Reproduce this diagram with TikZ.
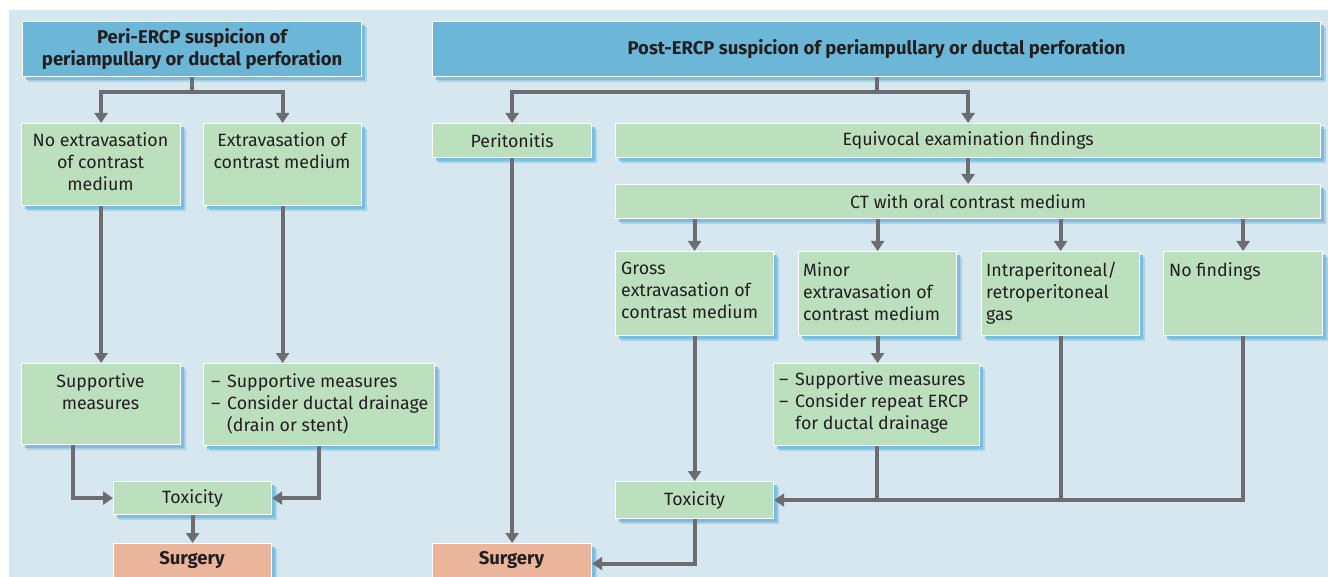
\documentclass[tikz,border=0pt]{standalone}
\usepackage{fontspec}
\setmainfont{Fira Sans}
\usetikzlibrary{arrows.meta,shadows,calc}
\definecolor{bgc}{HTML}{D7E7F0}
\definecolor{hdrc}{HTML}{6CB7D8}
\definecolor{grn}{HTML}{BCDFBE}
\definecolor{surg}{HTML}{EBB59C}
\definecolor{arrc}{HTML}{6C6D70}
\definecolor{shb}{HTML}{6FB8DC}
\definecolor{ink}{HTML}{231F20}
\newcommand{\regf}{\fontsize{17.8}{22}\selectfont}
\newcommand{\boldf}{\fontsize{18.5}{22}\selectfont\bfseries}
\tikzset{
  shd/.style={general shadow={fill=shb, opacity=0.45, shadow xshift=5pt, shadow yshift=-5pt},
              general shadow={fill=shb, opacity=0.8, shadow xshift=3pt, shadow yshift=-3pt}},
  boxbase/.style={shd, draw=white, line width=1.2pt, inner sep=0pt, anchor=north west, text=ink,
                  font=\regf, align=center},
  hdr/.style={boxbase, fill=hdrc, font=\boldf},
  gbox/.style={boxbase, fill=grn},
  sbox/.style={boxbase, fill=surg},
  txt/.style={inner sep=0pt, text=ink, font=\regf},
  conn/.style={draw=arrc, line width=4pt},
  arr/.style={conn, -{Triangle[width=13pt,length=10pt]}},
}
\newcommand{\dsh}{\makebox[16pt][l]{–}}
\begin{document}
\begin{tikzpicture}[x=1pt,y=-1pt]
\useasboundingbox (0,0) rectangle (1328,577);
\fill[bgc] (9,10) rectangle (1328,577);

% left column
\node[hdr, minimum width=339pt, minimum height=55pt] (peri) at (22,21) {Peri-ERCP suspicion of\\periampullary or ductal perforation};
\node[gbox, minimum width=159pt, minimum height=82pt] (noext) at (21,123) {};
\node[gbox, minimum width=158pt, minimum height=82pt] (ext) at (203,123) {};
\node[gbox, minimum width=159pt, minimum height=81pt] (supp) at (21,363) {};
\node[gbox, minimum width=231pt, minimum height=82pt] (supp2) at (203,363) {};
\node[gbox, minimum width=158pt, minimum height=33pt] (toxL) at (113,481) {Toxicity};
\node[sbox, minimum width=158pt, minimum height=40pt] (surgL) at (113,543) {};
\node[txt, anchor=base, font=\boldf] (surgLt) at (192,564) {Surgery};

\node[txt, anchor=north, align=center] (noextt) at (100.5,132) {No extravasation\\of contrast\\medium};
\node[txt, anchor=north, align=center] (extt) at (282,132) {Extravasation of\\contrast medium};
\node[txt, anchor=north, align=center] (suppt) at (100.5,373.5) {Supportive\\measures};
\node[txt, anchor=north west, align=left] (supp2t) at (211,373.5) {\dsh Supportive measures\\\dsh Consider ductal drainage\\\hspace*{16pt}(drain or stent)};

% right part
\node[hdr, minimum width=888pt, minimum height=55pt] (post) at (432,21) {Post-ERCP suspicion of periampullary or ductal perforation};
\node[gbox, minimum width=159pt, minimum height=34pt] (perit) at (432,123) {Peritonitis};
\node[gbox, minimum width=705pt, minimum height=34pt] (equiv) at (615,123) {Equivocal examination findings};
\node[gbox, minimum width=705pt, minimum height=34pt] (ct) at (615,184) {CT with oral contrast medium};
\node[gbox, minimum width=158pt, minimum height=84pt] (gross) at (615,251) {};
\node[gbox, minimum width=158pt, minimum height=84pt] (minor) at (798,251) {};
\node[gbox, minimum width=158pt, minimum height=84pt] (intra) at (981,251) {};
\node[gbox, minimum width=159pt, minimum height=84pt] (nof) at (1163,251) {};
\node[gbox, minimum width=206pt, minimum height=82pt] (supp3) at (773,363) {};
\node[gbox, minimum width=158pt, minimum height=37pt] (toxR) at (615,481) {Toxicity};
\node[sbox, minimum width=159pt, minimum height=40pt] (surgR) at (432,543) {};
\node[txt, anchor=base, font=\boldf] (surgRt) at (511.5,564) {Surgery};

\node[txt, anchor=north west, align=left] (grosst) at (621,262) {Gross\\extravasation of\\contrast medium};
\node[txt, anchor=north west, align=left] (minort) at (803,262) {Minor\\extravasation of\\contrast medium};
\node[txt, anchor=north west, align=left] (intrat) at (986,262) {Intraperitoneal/\\retroperitoneal\\gas};
\node[txt, anchor=north west, align=left] (noft) at (1169,262) {No findings};
\node[txt, anchor=north west, align=left] (supp3t) at (779,371.5) {\dsh Supportive measures\\\dsh Consider repeat ERCP\\\hspace*{16pt}for ductal drainage};

% connectors left
\coordinate (j1) at (peri.south |- 0,92);
\draw[arr] (peri.south) -- (j1) -| (noext.north);
\draw[arr] (j1) -| (ext.north);
\draw[arr] (noext.south) -- (supp.north);
\draw[arr] (ext.south) -- (ext.south |- supp2.north);
\draw[arr] ([xshift=-28.5pt]supp.south) |- (toxL.west);
\draw[arr] (supp2.south) |- (toxL.east);
\draw[arr] (toxL.south) -- (surgL.north);

% connectors right
\coordinate (j2) at (post.south |- 0,92);
\draw[arr] (post.south) -- (j2) -| (perit.north);
\draw[arr] (j2) -| (equiv.north);
\draw[arr] (equiv.south) -- (ct.north);
\draw[arr] (gross.north |- ct.south) -- (gross.north);
\draw[arr] (minor.north |- ct.south) -- (minor.north);
\draw[arr] (intra.north |- ct.south) -- (intra.north);
\draw[arr] (nof.north |- ct.south) -- (nof.north);
\draw[arr] (perit.south) -- (surgR.north);
\draw[arr] (minor.south) -- (minor.south |- supp3.north);
\draw[arr] (gross.south) -- (toxR.north);
\draw[arr] (nof.south) |- (toxR.east);
\draw[conn] (intra.south) -- (intra.south |- toxR.east);
\draw[conn] (supp3.south) -- (supp3.south |- toxR.east);
\draw[arr] (toxR.south) |- (surgR.east);
\end{tikzpicture}
\end{document}
